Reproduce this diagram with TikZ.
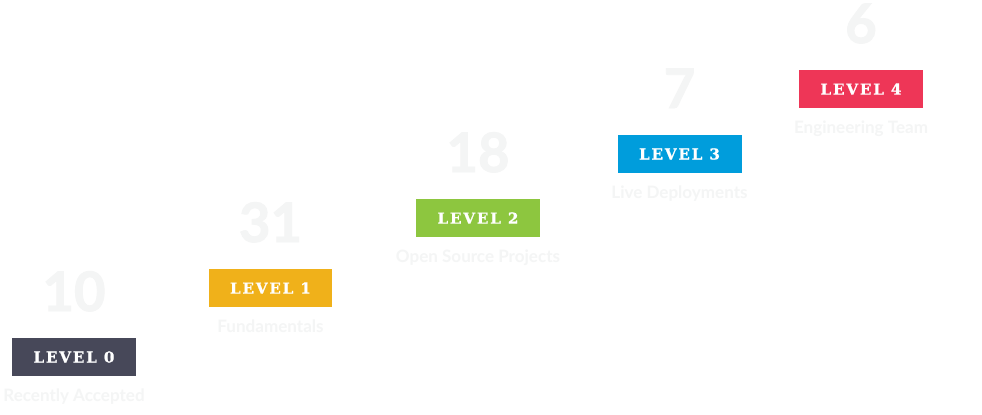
\documentclass[tikz,border=0pt]{standalone}
\usepackage{fontspec}
\usepackage{tikz}
\usetikzlibrary{positioning,calc}
\setmainfont{Lato}
\newfontfamily\slabfont[LetterSpace=12,BoldFeatures={FakeBold=1.2}]{DejaVu Serif}
\newfontfamily\heavyfont[BoldFeatures={FakeBold=1.6}]{Lato}
\definecolor{slate}{RGB}{71,72,89}
\definecolor{amber}{RGB}{240,177,26}
\definecolor{leaf}{RGB}{141,198,63}
\definecolor{sky}{RGB}{0,157,220}
\definecolor{rose}{RGB}{238,54,87}
\definecolor{ghost}{RGB}{244,245,245}

\begin{document}
\begin{tikzpicture}[x=0.02cm, y=0.02cm,
  level/.style={minimum width=2.48cm, minimum height=0.76cm, inner sep=0pt,
    text=white, font=\slabfont\bfseries\fontsize{8.6}{10}\selectfont},
  count/.style={anchor=base, inner sep=0pt, text=ghost,
    font=\heavyfont\bfseries\fontsize{31}{31}\selectfont},
  caption/.style={anchor=base, inner sep=0pt, text=ghost,
    font=\bfseries\fontsize{9.7}{11}\selectfont}]
  \useasboundingbox[fill=white] (0,0) rectangle (982,414);
  % level boxes
  \node[level, fill=slate] (l0) at (74,57)    {LEVEL 0};
  \node[level, fill=amber] (l1) at (270.5,126) {LEVEL 1};
  \node[level, fill=leaf]  (l2) at (478,196)  {LEVEL 2};
  \node[level, fill=sky]   (l3) at (679.5,260) {LEVEL 3};
  \node[level, fill=rose]  (l4) at (861,325)  {LEVEL 4};
  % counts above
  \node[count] (n0) at ($(l0)+(0,46)$) {10};
  \node[count] (n1) at ($(l1)+(0,46)$) {31};
  \node[count] (n2) at ($(l2)+(0,46)$) {18};
  \node[count] (n3) at ($(l3)+(0,46)$) {7};
  \node[count] (n4) at ($(l4)+(0,46)$) {6};
  % captions below
  \node[caption] (c0) at ($(l0)+(0,-44)$) {Recently Accepted};
  \node[caption] (c1) at ($(l1)+(0,-44)$) {Fundamentals};
  \node[caption] (c2) at ($(l2)+(0,-44)$) {Open Source Projects};
  \node[caption] (c3) at ($(l3)+(0,-44)$) {Live Deployments};
  \node[caption] (c4) at ($(l4)+(0,-44)$) {Engineering Team};
\end{tikzpicture}
\end{document}
